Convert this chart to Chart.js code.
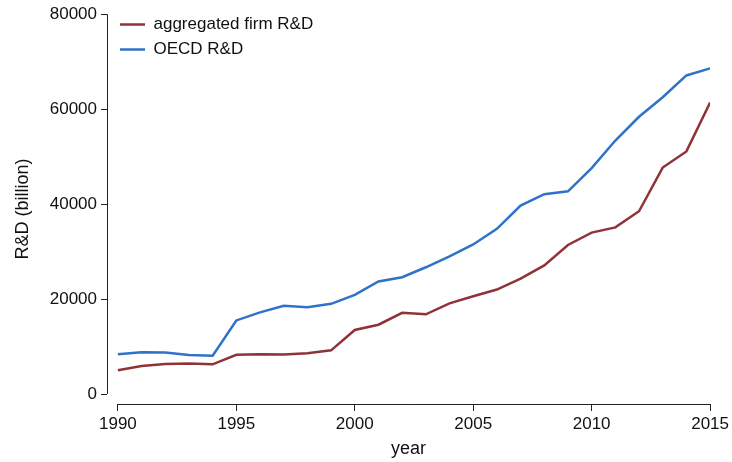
<!DOCTYPE html>
<html>
<head>
<meta charset="utf-8">
<script src="https://cdn.jsdelivr.net/npm/chart.js@4"></script>
<style>
  html, body { margin: 0; padding: 0; background: #fff; }
  #wrap { width: 732px; height: 462px; }
</style>
</head>
<body>
<div id="wrap"><canvas id="myChart"></canvas></div>
<script>
// valeurs
const years = [1990, 1991, 1992, 1993, 1994, 1995, 1996, 1997, 1998, 1999, 2000, 2001, 2002,
  2003, 2004, 2005, 2006, 2007, 2008, 2009, 2010, 2011, 2012, 2013, 2014, 2015];
const firmRD = [5000, 5900, 6300, 6450, 6250, 8250, 8400, 8350, 8600, 9200, 13500, 14600, 17100,
  16800, 19100, 20600, 22000, 24300, 27100, 31400, 34000, 35100, 38500, 47700, 51100, 61400];
const oecdRD = [8400, 8800, 8750, 8200, 8050, 15500, 17200, 18600, 18300, 19000, 20900, 23700, 24600,
  26700, 29000, 31500, 34800, 39700, 42100, 42700, 47600, 53400, 58400, 62500, 67100, 68600];
const xTicks = [1990, 1995, 2000, 2005, 2010, 2015];
const yTicks = [0, 20000, 40000, 60000, 80000];

Chart.defaults.font.family = "'Liberation Sans', Arial, sans-serif";
Chart.defaults.font.size = 17;
Chart.defaults.color = "#111";

const axisColor = "#222";

// lignes d'axe style Stata (seulement sur l'étendue des ticks)
const axisLines = {
  id: "axisLines",
  afterLayout(chart) {
    // décale la légende à l'intérieur de la zone du graphique
    chart.legend.left += 5;
    chart.legend.top += 8;
  },
  afterDraw(chart) {
    const { ctx, chartArea, scales } = chart;
    ctx.save();
    ctx.strokeStyle = axisColor;
    ctx.lineWidth = 1;
    ctx.beginPath();
    const yx = Math.round(chartArea.left) + 0.5;
    ctx.moveTo(yx, scales.y.getPixelForValue(yTicks[0]));
    ctx.lineTo(yx, scales.y.getPixelForValue(yTicks[yTicks.length - 1]));
    const xy = Math.round(chartArea.bottom) + 0.5;
    ctx.moveTo(scales.x.getPixelForValue(xTicks[0]), xy);
    ctx.lineTo(scales.x.getPixelForValue(xTicks[xTicks.length - 1]), xy);
    ctx.stroke();
    ctx.restore();
  },
};

const data = {
  datasets: [
    {
      label: "aggregated firm R&D",
      data: years.map((y, i) => ({ x: y, y: firmRD[i] })),
      borderColor: "#8f3339",
      backgroundColor: "#8f3339",
      borderWidth: 2.5,
    },
    {
      label: "OECD R&D",
      data: years.map((y, i) => ({ x: y, y: oecdRD[i] })),
      borderColor: "#2f72c8",
      backgroundColor: "#2f72c8",
      borderWidth: 2.5,
    },
  ],
};

const config = {
  type: "line",
  data: data,
  options: {
    responsive: true,
    maintainAspectRatio: false,
    animation: false,
    elements: { point: { radius: 0 }, line: { tension: 0 } },
    layout: { padding: { left: 0, right: 21, top: 14, bottom: 0 } },
    plugins: {
      legend: {
        position: "chartArea",
        align: "start",
        labels: {
          usePointStyle: true,
          pointStyle: "line",
          pointStyleWidth: 25,
          padding: 8,
          color: "#111",
          font: { size: 17 },
        },
      },
      tooltip: { enabled: false },
    },
    scales: {
      x: {
        type: "linear",
        min: 1989.54,
        max: 2015,
        afterBuildTicks: (s) => { s.ticks = xTicks.map((v) => ({ value: v })); },
        afterFit: (s) => { s.height = 58; },
        border: { display: false },
        grid: { drawOnChartArea: false, drawTicks: true, tickLength: 7, color: axisColor },
        ticks: { padding: 3, maxRotation: 0, callback: (v) => String(v) },
        title: { display: true, text: "year", font: { size: 18 }, padding: { top: 2, bottom: 2 } },
      },
      y: {
        min: -2100,
        max: 80000,
        afterBuildTicks: (s) => { s.ticks = yTicks.map((v) => ({ value: v })); },
        afterFit: (s) => { s.width = 107; },
        border: { display: false },
        grid: { drawOnChartArea: false, drawTicks: true, tickLength: 6, color: axisColor },
        ticks: { padding: 4, callback: (v) => String(v) },
        title: { display: true, text: "R&D (billion)", font: { size: 18 }, padding: { top: 12, bottom: 4 } },
      },
    },
  },
  plugins: [axisLines],
};

const context = document.getElementById("myChart").getContext("2d");
const chart = new Chart(context, config);
</script>
</body>
</html>
